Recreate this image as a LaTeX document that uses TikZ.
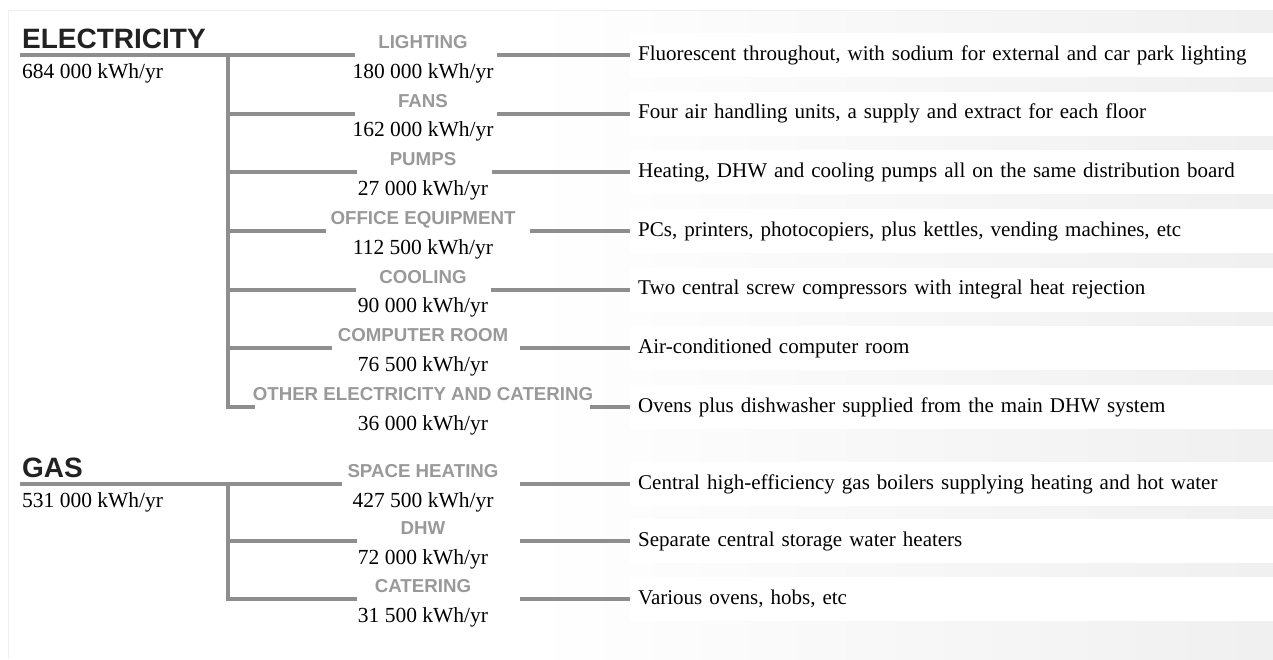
\documentclass[tikz,border=0pt]{standalone}
\usepackage{fontspec}
\setmainfont{Liberation Serif}
\newfontfamily\hsans{Liberation Sans}
\definecolor{linegray}{HTML}{8E8E8E}
\definecolor{namegray}{HTML}{999999}
\definecolor{headblack}{HTML}{222222}
\newcommand\mkrow[7]{%
  \node[gapnode, minimum width={(#4-#3)*1pt}] (g#1) at ({(#3+#4)/2},#2) {};
  \node[catname, anchor=base] (n#1) at (423,#2-6.5) {#5};
  \node[catval, anchor=base] (v#1) at (423,#2+23) {#6};
  \node[descbox] (d#1) at (630,#2) {#7};
  \coordinate (t#1) at (228,#2);
  \draw[branch] (g#1.east) -- (d#1.west);
}
\begin{document}
\begin{tikzpicture}[x=1pt,y=-1pt,
  branch/.style={draw=linegray, line width=4.2pt, line join=miter},
  gapnode/.style={inner sep=0pt, minimum height=4pt, draw=none},
  catname/.style={font=\hsans\bfseries\fontsize{18.7}{20}\selectfont, text=namegray, inner sep=0pt},
  catval/.style={font=\fontsize{21.5}{24}\selectfont, inner sep=0pt},
  heading/.style={font=\hsans\bfseries\fontsize{28}{30}\selectfont, text=headblack, inner sep=0pt, anchor=base west},
  descbox/.style={fill=white, draw=none, anchor=west, minimum height=44pt, text width=627pt, inner xsep=8pt, inner ysep=0pt, align=left, font=\fontsize{21}{24}\selectfont}]
\useasboundingbox (0,0) rectangle (1273,659);
\fill[white] (0,0) rectangle (1273,659);
\shade[left color=white, right color=black!6] (530,10) rectangle (1273,659);
\draw[black!6, line width=1pt] (8,659) -- (8,10) -- (1273,10);

% headings
\node[heading] (eh) at (22,48) {ELECTRICITY};
\node[catval, anchor=base west] (ev) at (22,78) {684 000 kWh/yr};
\node[heading] (gh) at (22,477) {GAS};
\node[catval, anchor=base west] (gv) at (22,507) {531 000 kWh/yr};

% rows
\mkrow{1}{55}{355}{497}{LIGHTING}{180 000 kWh/yr}{Fluorescent throughout, with sodium for external and car park lighting}
\mkrow{2}{113.7}{355}{497}{FANS}{162 000 kWh/yr}{Four air handling units, a supply and extract for each floor}
\mkrow{3}{172.3}{357}{492}{PUMPS}{27 000 kWh/yr}{Heating, DHW and cooling pumps all on the same distribution board}
\mkrow{4}{231}{326}{530}{OFFICE EQUIPMENT}{112 500 kWh/yr}{PCs, printers, photocopiers, plus kettles, vending machines, etc}
\mkrow{5}{289.7}{356}{491}{COOLING}{90 000 kWh/yr}{Two central screw compressors with integral heat rejection}
\mkrow{6}{348.3}{332}{520}{COMPUTER ROOM}{76 500 kWh/yr}{Air-conditioned computer room}
\mkrow{7}{407}{255}{590}{OTHER ELECTRICITY AND CATERING}{36 000 kWh/yr}{Ovens plus dishwasher supplied from the main DHW system}
\mkrow{8}{484}{342}{520}{SPACE HEATING}{427 500 kWh/yr}{Central high-efficiency gas boilers supplying heating and hot water}
\mkrow{9}{541}{357}{520}{DHW}{72 000 kWh/yr}{Separate central storage water heaters}
\mkrow{10}{599}{357}{520}{CATERING}{31 500 kWh/yr}{Various ovens, hobs, etc}

% trunks and branches
\coordinate (es) at (20,55);
\draw[branch] (es) -- (g1.west);
\draw[branch] (t1) -- (t7) -- (g7.west);
\foreach \i in {2,...,6} {\draw[branch] (t\i) -- (g\i.west);}
\coordinate (gs) at (20,484);
\draw[branch] (gs) -- (g8.west);
\draw[branch] (t8) -- (t10) -- (g10.west);
\draw[branch] (t9) -- (g9.west);
\end{tikzpicture}
\end{document}
